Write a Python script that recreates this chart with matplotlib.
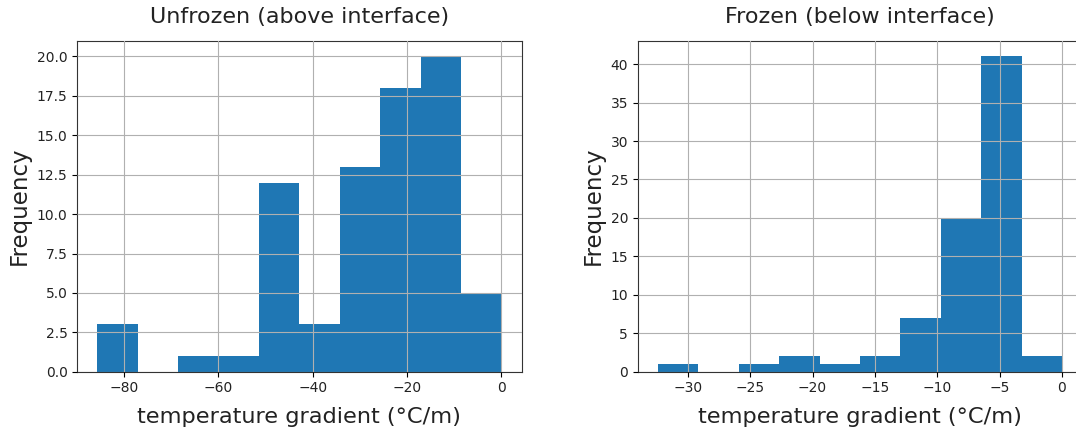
import numpy as np
import matplotlib
matplotlib.use("Agg")
import matplotlib.pyplot as plt

# Left panel: unfrozen (above interface)
unfrozen_min, unfrozen_max = -85.6, 0.0
unfrozen_counts = [3, 0, 1, 1, 12, 3, 13, 18, 20, 5]

# Right panel: frozen (below interface)
frozen_min, frozen_max = -32.4, 0.0
frozen_counts = [1, 0, 1, 2, 1, 2, 7, 20, 41, 2]

titles = ["Unfrozen (above interface)", "Frozen (below interface)"]
xlabel = "temperature gradient (°C/m)"
ylabel = "Frequency"

fig = plt.figure(figsize=(10.76, 4.34), dpi=100)
ax1 = fig.add_axes([0.0718, 0.1435, 0.413, 0.7627])
ax2 = fig.add_axes([0.5927, 0.1435, 0.413, 0.7627])

panels = [(ax1, unfrozen_min, unfrozen_max, unfrozen_counts),
          (ax2, frozen_min, frozen_max, frozen_counts)]

for (ax, lo, hi, counts), title in zip(panels, titles):
    edges = np.linspace(lo, hi, len(counts) + 1)
    centers = (edges[:-1] + edges[1:]) / 2
    ax.hist(centers, bins=edges, weights=counts, color="#1f77b4")
    ax.grid(True, color="#b0b0b0", linewidth=0.8)
    ax.set_axisbelow(False)
    ax.set_title(title, fontsize=16, pad=13, color="#222222")
    ax.set_xlabel(xlabel, fontsize=16.2, labelpad=8, color="#222222")
    ax.set_ylabel(ylabel, fontsize=16.5, labelpad=4, color="#222222")
    ax.tick_params(labelsize=10, labelcolor="#222222")
    for s in ax.spines.values():
        s.set_color("#333333")

ax1.set_yticks(np.arange(0, 20.1, 2.5))
ax2.set_yticks(np.arange(0, 41, 5))

fig.savefig("out.png", dpi=100)
